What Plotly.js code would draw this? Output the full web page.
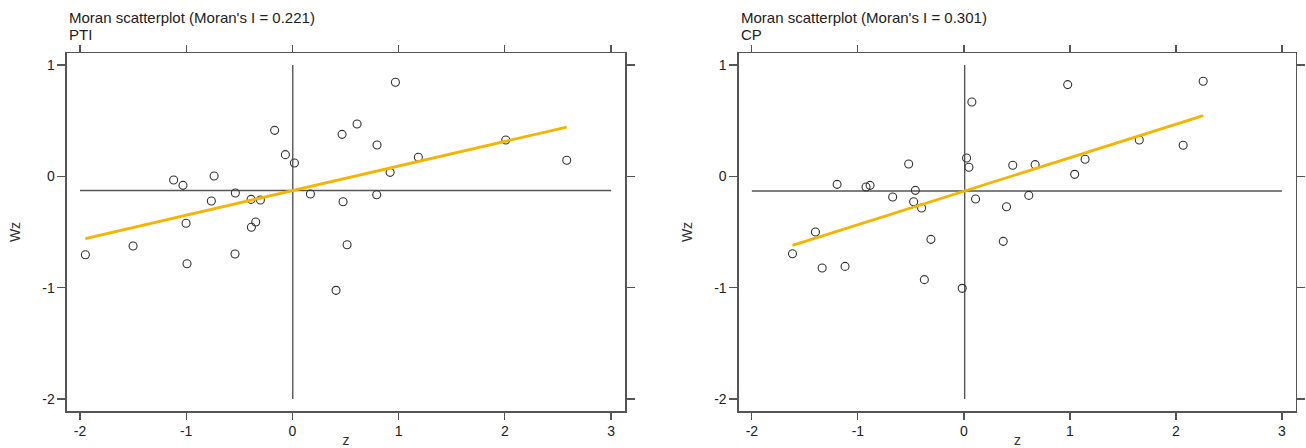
<!DOCTYPE html>
<html>
<head>
<meta charset="utf-8">
<script src="https://cdn.plot.ly/plotly-3.0.1.min.js"></script>
<style>html,body{margin:0;padding:0;background:#fff;}#chart{width:1306px;height:448px;}</style>
</head>
<body>
<div id="chart"></div>
<script>
// ---- Data: left panel (PTI) ----
var ptiZ  = [-1.949,-1.500,-1.118,-1.030,-1.001,-0.992,-0.763,-0.737,-0.540,-0.537,-0.389,-0.386,-0.345,-0.301,-0.167,-0.066,0.019,0.170,0.411,0.468,0.477,0.515,0.609,0.794,0.797,0.920,0.970,1.186,2.009,2.583];
var ptiWz = [-0.704,-0.626,-0.033,-0.081,-0.422,-0.785,-0.222,0.003,-0.698,-0.150,-0.207,-0.458,-0.410,-0.213,0.413,0.195,0.120,-0.159,-1.024,0.377,-0.228,-0.614,0.470,-0.165,0.281,0.036,0.845,0.171,0.326,0.144];
var ptiI = 0.221;
var ptiName = "PTI";

// ---- Data: right panel (CP) ----
var cpZ  = [-1.617,-1.400,-1.337,-1.196,-1.121,-0.923,-0.885,-0.672,-0.521,-0.474,-0.458,-0.399,-0.373,-0.311,-0.016,0.025,0.047,0.075,0.110,0.371,0.402,0.461,0.612,0.672,0.979,1.045,1.143,1.654,2.068,2.257];
var cpWz = [-0.695,-0.500,-0.824,-0.072,-0.809,-0.096,-0.081,-0.186,0.111,-0.228,-0.126,-0.284,-0.928,-0.566,-1.006,0.165,0.081,0.668,-0.204,-0.584,-0.273,0.099,-0.171,0.105,0.824,0.018,0.153,0.326,0.279,0.854];
var cpI = 0.301;
var cpName = "CP";

// ---- Tick labels ----
var xTicks = [-2,-1,0,1,2,3];
var yTicks = [-2,-1,0,1];

function mean(a){var s=0;for(var i=0;i<a.length;i++)s+=a[i];return s/a.length;}
function minA(a){return Math.min.apply(null,a);}
function maxA(a){return Math.max.apply(null,a);}

var FONT = "Liberation Sans, Arial, sans-serif";
var AX = '#555555';
var PT = '#333333';
var FIT = '#f5b400';

function panel(z, wz, I, xa, ya){
  var mz = mean(z), mw = mean(wz);
  var x0 = minA(z), x1 = maxA(z);
  var pts = {x:z, y:wz, xaxis:xa, yaxis:ya, type:'scatter', mode:'markers',
    marker:{symbol:'circle-open', size:8, color:PT, line:{width:1.1, color:PT}},
    hoverinfo:'x+y', showlegend:false};
  var fit = {x:[x0,x1], y:[mw + I*(x0-mz), mw + I*(x1-mz)], xaxis:xa, yaxis:ya,
    type:'scatter', mode:'lines', line:{color:FIT, width:2.8}, hoverinfo:'skip', showlegend:false};
  var xr = xa==='x' ? 'x' : 'x2', yr = ya==='y' ? 'y' : 'y2';
  var shapes = [
    {type:'line', xref:xr, yref:yr, x0:xTicks[0], x1:xTicks[xTicks.length-1], y0:mw, y1:mw, line:{color:AX, width:1.4}, layer:'below'},
    {type:'line', xref:xr, yref:yr, x0:mz, x1:mz, y0:yTicks[0], y1:yTicks[yTicks.length-1], line:{color:AX, width:1.4}, layer:'below'}
  ];
  return {traces:[pts, fit], shapes:shapes};
}

var L = panel(ptiZ, ptiWz, ptiI, 'x', 'y');
var R = panel(cpZ, cpWz, cpI, 'x2', 'y2');

function xaxisCfg(dom, anchor){
  return {domain:dom, anchor:anchor, range:[-2.122, 3.132], tickvals:xTicks, ticktext:xTicks.map(String),
    ticks:'outside', ticklen:7, tickwidth:1.2, tickcolor:AX, showline:true, linecolor:AX, linewidth:1.5,
    mirror:'ticks', showgrid:false, zeroline:false, tickfont:{family:FONT, size:14, color:'#222'},
    title:{text:'z', font:{family:FONT, size:14, color:'#333'}, standoff:1}};
}
function yaxisCfg(anchor){
  return {domain:[0,1], anchor:anchor, range:[-2.108, 1.108], tickvals:yTicks, ticktext:yTicks.map(String),
    ticks:'outside', ticklen:8, tickwidth:1.2, tickcolor:AX, showline:true, linecolor:AX, linewidth:1.5,
    mirror:'ticks', showgrid:false, zeroline:false, tickfont:{family:FONT, size:14, color:'#222'},
    title:{text:'Wz', font:{family:FONT, size:14, color:'#333'}, standoff:18}};
}

var dL = [0.0513, 0.4786], dR = [0.5658, 0.9923];
var T1 = 1.0992, T2 = 1.0503;

var layout = {
  width:1306, height:448,
  margin:{l:0, r:0, t:53, b:37},
  paper_bgcolor:'#fff', plot_bgcolor:'#fff',
  font:{family:FONT, color:'#222'},
  showlegend:false,
  xaxis: xaxisCfg(dL, 'y'),
  yaxis: yaxisCfg('x'),
  xaxis2: xaxisCfg(dR, 'y2'),
  yaxis2: yaxisCfg('x2'),
  shapes: L.shapes.concat(R.shapes),
  annotations:[
    {xref:'paper', yref:'paper', x:dL[0], y:T1, xanchor:'left', yanchor:'middle', showarrow:false,
      text:"Moran scatterplot (Moran's I = " + ptiI.toFixed(3) + ")", font:{family:FONT, size:15, color:'#222'}},
    {xref:'paper', yref:'paper', x:dL[0], y:T2, xanchor:'left', yanchor:'middle', showarrow:false,
      text:ptiName, font:{family:FONT, size:15, color:'#222'}},
    {xref:'paper', yref:'paper', x:dR[0], y:T1, xanchor:'left', yanchor:'middle', showarrow:false,
      text:"Moran scatterplot (Moran's I = " + cpI.toFixed(3) + ")", font:{family:FONT, size:15, color:'#222'}},
    {xref:'paper', yref:'paper', x:dR[0], y:T2, xanchor:'left', yanchor:'middle', showarrow:false,
      text:cpName, font:{family:FONT, size:15, color:'#222'}}
  ]
};

Plotly.newPlot('chart', L.traces.concat(R.traces), layout, {displayModeBar:false, staticPlot:true});
</script>
</body>
</html>
